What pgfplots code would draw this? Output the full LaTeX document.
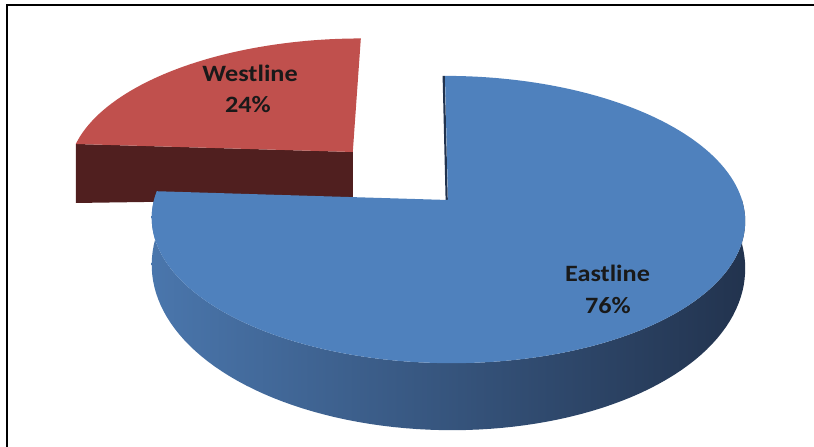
\documentclass[border=0pt]{standalone}
\usepackage{pgfplots}
\pgfplotsset{compat=1.18}
\usepackage{pgfplotstable}
\usepackage{fontspec}
\setmainfont{Carlito}
\newfontfamily\lblfont[FakeStretch=1.12]{Carlito}

\definecolor{eastTop}{RGB}{79,129,189}
\definecolor{eastSideL}{RGB}{74,118,172}
\definecolor{eastSideM}{RGB}{55,88,132}
\definecolor{eastSideR}{RGB}{34,51,78}
\definecolor{westTop}{RGB}{192,80,77}
\definecolor{westSide}{RGB}{80,31,31}

\pgfplotstableread{
label value
Eastline 76
Westline 24
}\piedata

\pgfplotstablegetelem{0}{value}\of\piedata \let\valE\pgfplotsretval
\pgfplotstablegetelem{1}{value}\of\piedata \let\valW\pgfplotsretval

% perspective projection of pie-plane coordinates (u,v) to picture coordinates
\newcommand\proj[2]{%
  \pgfmathsetmacro\PW{1+0.136*(#2)}%
  \pgfmathsetmacro\PX{(294*(#1)+57.5*(#2)+448)/\PW}%
  \pgfmathsetmacro\PY{200-141*(#2)/\PW}%
}

\begin{document}
\begin{tikzpicture}
\pgfmathsetmacro\total{\valE+\valW}
\pgfmathsetmacro\aW{90+360*\valW/\total}
\pgfmathsetmacro\aM{(90+\aW)/2}
\pgfmathsetmacro\ou{0.49*cos(\aM)}
\pgfmathsetmacro\ov{0.49*sin(\aM)}
% Westline top face
\proj{\ou}{\ov}
\xdef\WTop{(\PX,\PY)}
\foreach \i in {0,...,48}{%
  \pgfmathsetmacro\ang{90+(\i/48)*(\aW-90)}%
  \proj{\ou+cos(\ang)}{\ov+sin(\ang)}%
  \xdef\WTop{\WTop (\PX,\PY)}}
% Westline front (cut) face
\proj{\ou+cos(\aW)}{\ov+sin(\aW)}
\pgfmathsetmacro\Db{43-12*(\ou+cos(\aW))}
\pgfmathsetmacro\PYb{\PY+\Db}
\xdef\WFront{(\PX,\PY) (\PX,\PYb)}
\proj{\ou}{\ov}
\pgfmathsetmacro\Db{43-12*\ou}
\pgfmathsetmacro\PYb{\PY+\Db}
\xdef\WFront{\WFront (\PX,\PYb) (\PX,\PY)}
% Eastline outer side
\xdef\ESide{}
\foreach \i in {0,...,90}{%
  \pgfmathsetmacro\ang{\aW+(\i/90)*(360-\aW)}%
  \proj{cos(\ang)}{sin(\ang)}%
  \xdef\ESide{\ESide (\PX,\PY)}}
\foreach \i in {90,...,0}{%
  \pgfmathsetmacro\ang{\aW+(\i/90)*(360-\aW)}%
  \proj{cos(\ang)}{sin(\ang)}%
  \pgfmathsetmacro\PYb{\PY+44-23*sin(\ang)}%
  \xdef\ESide{\ESide (\PX,\PYb)}}
% Eastline top face
\proj{0}{0}
\xdef\ETop{(\PX,\PY)}
\xdef\EEdge{(\PX,\PY)}
\foreach \i in {0,...,150}{%
  \pgfmathsetmacro\ang{\aW+(\i/150)*(450-\aW)}%
  \proj{cos(\ang)}{sin(\ang)}%
  \xdef\ETop{\ETop (\PX,\PY)}}
\proj{0}{1}
\xdef\EEdge{\EEdge (\PX,\PY)}
\begin{axis}[
  x=1bp, y=1bp, y dir=reverse,
  xmin=0, xmax=814, ymin=0, ymax=447,
  hide axis, scale only axis,
]
\path (axis cs:0,0) rectangle (axis cs:814,447);
\edef\doplots{%
  \noexpand\addplot[draw=none, fill=westSide] coordinates {\WFront};
  \noexpand\addplot[draw=none, fill=westTop] coordinates {\WTop};
  \noexpand\addplot[draw=none, left color=eastSideL, middle color=eastSideM, right color=eastSideR] coordinates {\ESide};
  \noexpand\addplot[eastSideR, line width=2.2bp, xshift=-1.3bp] coordinates {\EEdge};
  \noexpand\addplot[draw=none, fill=eastTop] coordinates {\ETop};
}
\doplots
\draw[black, line width=1.8bp] (axis cs:6.9,447) -- (axis cs:6.9,4.9) -- (axis cs:814,4.9);
\node[anchor=base, font=\lblfont\bfseries\fontsize{23.5}{28}\selectfont, text=black!90] at (axis cs:250,81.5) {Westline};
\node[anchor=base, font=\lblfont\bfseries\fontsize{23.5}{28}\selectfont, text=black!90] at (axis cs:248,112.5) {24\%};
\node[anchor=base, font=\lblfont\bfseries\fontsize{23.5}{28}\selectfont, text=black!90] at (axis cs:607.5,282) {Eastline};
\node[anchor=base, font=\lblfont\bfseries\fontsize{23.5}{28}\selectfont, text=black!90] at (axis cs:608,314) {76\%};
\end{axis}
\end{tikzpicture}
\end{document}
